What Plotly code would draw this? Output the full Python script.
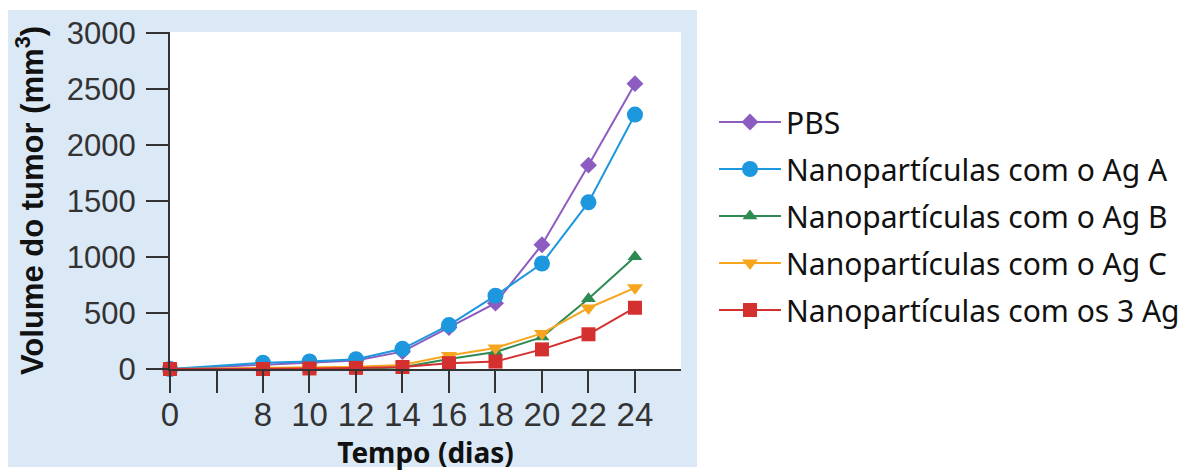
import plotly.graph_objects as go

# ---- data ----
days = ["0", "8", "10", "12", "14", "16", "18", "20", "22", "24"]
x_categories = ["0", " ", "8", "10", "12", "14", "16", "18", "20", "22", "24"]

pbs = [0, 40, 55, 75, 155, 370, 588, 1110, 1820, 2548]
ag_a = [0, 55, 68, 88, 180, 392, 655, 942, 1488, 2272]
ag_b = [0, 0, 0, 0, 15, 90, 152, 285, 628, 1003]
ag_c = [0, 10, 15, 20, 35, 120, 188, 318, 545, 725]
ag_3 = [0, 0, 5, 10, 18, 52, 66, 175, 310, 547]

series_names = [
    "PBS",
    "Nanopartículas com o Ag A",
    "Nanopartículas com o Ag B",
    "Nanopartículas com o Ag C",
    "Nanopartículas com os 3 Ag",
]
series_values = [pbs, ag_a, ag_b, ag_c, ag_3]
colors = ["#8c5cc0", "#1d97dd", "#2d8a52", "#f7a51f", "#d4302f"]
symbols = ["diamond", "circle", "triangle-up", "triangle-down", "square"]
sizes = [13, 16, 13, 14, 14]

PANEL = "#dbe9f6"

fig = go.Figure()
for i, (name, vals) in enumerate(zip(series_names, series_values)):
    fig.add_trace(go.Scatter(
        x=days, y=vals, name=name, mode="lines+markers",
        line=dict(color=colors[i], width=2),
        marker=dict(symbol=symbols[i], size=sizes[i], color=colors[i]),
        cliponaxis=False,
        legendgroup=f"g{i}",
    ))

L, R, T, B = 170, 506, 32, 102
W, H = 1187, 471
pw = W - L - R
ph = H - T - B


def px(xp):
    return (xp - L) / pw


def py(yp):
    return (H - B - yp) / ph


fig.add_shape(type="rect", xref="paper", yref="paper",
              x0=px(8), x1=px(697), y0=py(467), y1=py(10),
              fillcolor=PANEL, line=dict(width=0), layer="below")
fig.add_shape(type="rect", xref="paper", yref="paper",
              x0=0, x1=1, y0=0, y1=1,
              fillcolor="white", line=dict(width=0), layer="below")

fig.update_layout(
    width=W, height=H,
    margin=dict(l=L, r=R, t=T, b=B, autoexpand=False),
    paper_bgcolor="white",
    plot_bgcolor="rgba(0,0,0,0)",
    showlegend=True,
    legend=dict(
        x=px(714), y=py(96), xanchor="left", yanchor="top",
        font=dict(family="Noto Sans", size=30, color="#111"),
        bgcolor="rgba(0,0,0,0)",
        traceorder="grouped",
        tracegroupgap=5,
        itemwidth=62,
    ),
    xaxis=dict(
        type="category",
        categoryorder="array",
        categoryarray=x_categories,
        range=[0, 10.99],
        showline=True, linecolor="#333", linewidth=2,
        ticks="outside", ticklen=22, tickwidth=2, tickcolor="#333",
        showgrid=False, zeroline=False,
        tickfont=dict(family="Liberation Sans", size=33, color="#333"),
        ticklabelstandoff=-7,
        title=dict(text="<b>Tempo (dias)</b>", standoff=0,
                   font=dict(family="Noto Sans", size=28, color="#111")),
    ),
    yaxis=dict(
        range=[0, 3009],
        tickvals=[0, 500, 1000, 1500, 2000, 2500, 3000],
        showline=True, linecolor="#333", linewidth=2,
        ticks="outside", ticklen=22, tickwidth=2, tickcolor="#333",
        showgrid=False, zeroline=False,
        tickfont=dict(family="Liberation Sans", size=31, color="#333"),
        ticklabelstandoff=4,
        title=dict(text="<b>Volume do tumor (mm<sup>3</sup>)</b>", standoff=14,
                   font=dict(family="Liberation Sans", size=31, color="#111")),
    ),
)

fig.write_html("out.html")
